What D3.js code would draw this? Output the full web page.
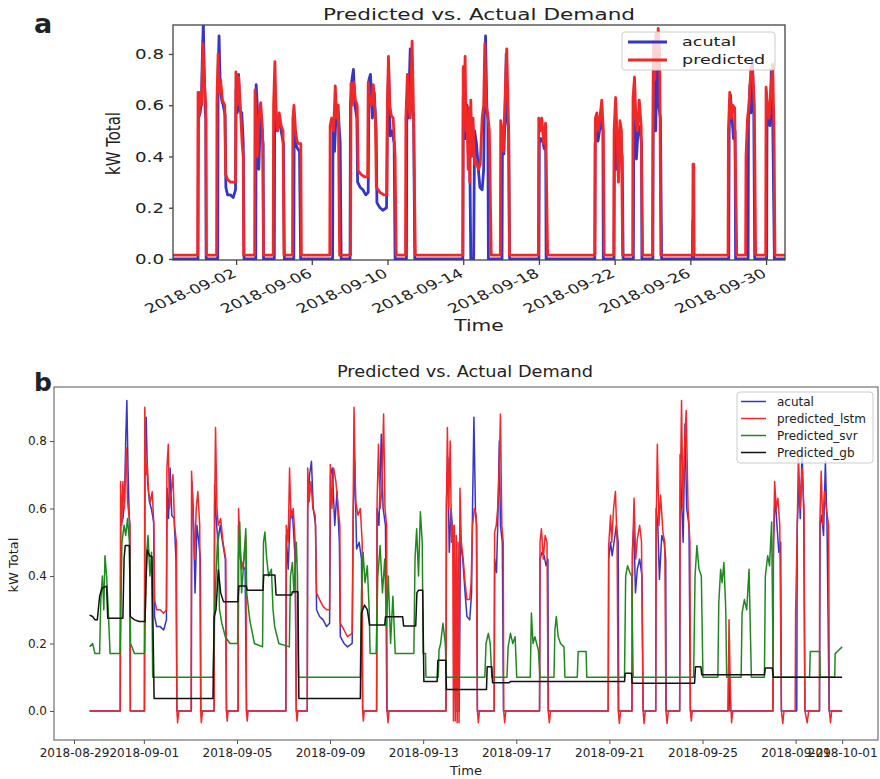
<!DOCTYPE html>
<html><head><meta charset="utf-8">
<script src="https://cdn.jsdelivr.net/npm/d3@7"></script>
<style>body{margin:0;background:#fff;} text{font-family:"DejaVu Sans",sans-serif;fill:#222;}</style>
</head><body>
<svg id="c" width="880" height="779"></svg>
<script>
// time values: days since 2018-08-29 00:00 (UTC), values in kW
const startDate = "2018-08-29";

const actual = [
[0.667,0],
[1.99,0],[2.01,0.55],[2.1,0.57],[2.17,0.62],[2.22,0.8],[2.27,0.92],[2.32,0.72],[2.37,0.58],[2.4,0.55],[2.42,0],
[3.03,0],[3.05,0.72],[3.1,0.87],[3.16,0.68],[3.24,0.62],[3.32,0.6],[3.42,0.56],[3.46,0.28],[3.55,0.25],[3.7,0.25],[3.85,0.24],[3.97,0.27],[4.0,0.66],[4.06,0.57],[4.13,0.72],[4.2,0.58],[4.3,0.57],[4.38,0.45],[4.42,0],
[5.04,0],[5.06,0.68],[5.12,0.6],[5.2,0.35],[5.28,0.55],[5.36,0.5],[5.43,0.45],[5.45,0],
[6.02,0],[6.04,0.67],[6.1,0.58],[6.18,0.5],[6.28,0.55],[6.38,0.5],[6.5,0.45],[6.55,0],
[7.05,0],[7.07,0.55],[7.15,0.45],[7.25,0.43],[7.35,0.42],[7.41,0],
[9.1,0],[9.12,0.52],[9.2,0.42],[9.3,0.6],[9.4,0.57],[9.5,0.45],[9.55,0],
[10.02,0],[10.04,0.6],[10.12,0.7],[10.2,0.74],[10.28,0.6],[10.38,0.55],[10.42,0.3],[10.55,0.28],[10.7,0.27],[10.85,0.25],[10.98,0.26],[11.02,0.7],[11.1,0.72],[11.2,0.55],[11.3,0.65],[11.4,0.5],[11.44,0.22],[11.6,0.2],[11.75,0.19],[11.95,0.2],[12.0,0.6],[12.06,0.74],[12.14,0.48],[12.25,0.5],[12.35,0.45],[12.4,0],
[13.0,0],[13.02,0.6],[13.1,0.55],[13.2,0.82],[13.28,0.6],[13.38,0.55],[13.44,0],
[15.98,0],[16.0,0.62],[16.06,0.75],[16.12,0.47],[16.2,0.6],[16.3,0.5],[16.36,0.3],[16.4,0],[16.55,0],[16.6,0.5],[16.7,0.45],[16.8,0.35],[16.88,0.28],[17.0,0.27],[17.08,0.35],[17.12,0.6],[17.18,0.87],[17.25,0.58],[17.3,0.55],[17.33,0],
[18.05,0],[18.07,0.45],[18.15,0.41],[18.22,0.6],[18.27,0.8],[18.32,0.55],[18.4,0.5],[18.45,0],
[20.0,0],[20.02,0.45],[20.1,0.47],[20.2,0.46],[20.28,0.43],[20.36,0.45],[20.38,0],
[22.95,0],[22.97,0.45],[23.05,0.5],[23.12,0.46],[23.2,0.5],[23.3,0.55],[23.38,0.5],[23.4,0],
[23.97,0],[23.99,0.48],[24.05,0.55],[24.12,0.35],[24.2,0.42],[24.3,0.45],[24.4,0.4],[24.45,0],
[24.99,0],[25.01,0.6],[25.08,0.55],[25.15,0.39],[25.25,0.52],[25.35,0.5],[25.42,0.45],[25.44,0],
[26.02,0],[26.04,0.76],[26.1,0.62],[26.17,0.5],[26.25,0.85],[26.32,0.6],[26.42,0.55],[26.48,0],
[28.1,0],[28.13,0.15],[28.18,0],
[30.03,0],[30.05,0.5],[30.12,0.64],[30.2,0.55],[30.28,0.47],[30.36,0.5],[30.39,0],
[31.05,0],[31.07,0.55],[31.15,0.68],[31.2,0.57],[31.28,0.77],[31.35,0.58],[31.4,0],
[32.03,0],[32.05,0.55],[32.12,0.58],[32.2,0.52],[32.28,0.74],[32.35,0.55],[32.44,0],
[33.0,0]
];

// panel a prediction
const predicted = [
[0.667,0.015],
[1.97,0.015],[1.99,0.65],[2.05,0.56],[2.1,0.65],[2.18,0.6],[2.25,0.84],[2.32,0.7],[2.4,0.6],[2.43,0.015],
[2.97,0.015],[2.99,0.62],[3.05,0.8],[3.1,0.65],[3.18,0.7],[3.28,0.62],[3.4,0.6],[3.45,0.33],[3.55,0.31],[3.7,0.3],[3.85,0.3],[3.97,0.3],[3.99,0.73],[4.06,0.6],[4.14,0.71],[4.22,0.6],[4.32,0.45],[4.38,0.4],[4.4,0.015],
[4.98,0.015],[5.0,0.66],[5.06,0.55],[5.12,0.4],[5.2,0.55],[5.3,0.61],[5.4,0.5],[5.45,0.015],
[5.96,0.015],[5.98,0.6],[6.05,0.77],[6.12,0.55],[6.2,0.5],[6.28,0.57],[6.38,0.52],[6.48,0.5],[6.53,0.015],
[6.98,0.015],[7.0,0.55],[7.06,0.6],[7.14,0.5],[7.22,0.46],[7.3,0.45],[7.42,0.45],[7.45,0.015],
[8.95,0.015],[8.97,0.52],[9.05,0.55],[9.15,0.5],[9.24,0.675],[9.32,0.55],[9.4,0.6],[9.47,0.015],
[10.05,0.015],[10.07,0.685],[10.14,0.6],[10.22,0.69],[10.3,0.62],[10.4,0.6],[10.45,0.345],[10.6,0.33],[10.8,0.32],[10.95,0.32],[10.98,0.69],[11.05,0.62],[11.15,0.6],[11.25,0.68],[11.36,0.55],[11.41,0.28],[11.6,0.26],[11.8,0.25],[11.97,0.25],[11.99,0.6],[12.05,0.79],[12.12,0.6],[12.2,0.56],[12.3,0.55],[12.4,0.4],[12.46,0.015],
[12.95,0.015],[12.97,0.55],[13.05,0.72],[13.12,0.6],[13.2,0.55],[13.3,0.85],[13.38,0.55],[13.47,0.015],
[15.98,0.015],[16.0,0.75],[16.05,0.6],[16.1,0.79],[16.15,0.5],[16.2,0.55],[16.26,0.35],[16.3,0.59],[16.35,0.3],[16.4,0.62],[16.46,0.4],[16.52,0.55],[16.6,0.37],[16.7,0.38],[16.8,0.35],[16.9,0.37],[17.0,0.55],[17.08,0.6],[17.14,0.84],[17.22,0.6],[17.3,0.56],[17.38,0.5],[17.48,0.015],
[17.96,0.015],[17.98,0.54],[18.05,0.5],[18.12,0.42],[18.2,0.6],[18.3,0.82],[18.4,0.5],[18.44,0.015],
[19.97,0.015],[19.99,0.55],[20.07,0.5],[20.15,0.55],[20.25,0.45],[20.35,0.53],[20.46,0.015],
[22.96,0.015],[22.98,0.55],[23.06,0.57],[23.14,0.5],[23.22,0.55],[23.32,0.62],[23.4,0.5],[23.45,0.015],
[23.95,0.015],[23.97,0.5],[24.05,0.63],[24.12,0.5],[24.2,0.3],[24.28,0.54],[24.36,0.5],[24.42,0.015],
[24.95,0.015],[24.97,0.63],[25.05,0.71],[25.12,0.55],[25.2,0.5],[25.3,0.62],[25.4,0.52],[25.48,0.015],
[26.0,0.015],[26.02,0.45],[26.06,0.85],[26.12,0.7],[26.18,0.88],[26.25,0.75],[26.3,0.9],[26.38,0.8],[26.44,0.015],
[28.12,0.015],[28.14,0.37],[28.18,0.37],[28.2,0.015],
[29.99,0.015],[30.01,0.5],[30.08,0.65],[30.16,0.55],[30.24,0.6],[30.34,0.59],[30.45,0.015],
[30.92,0.015],[30.94,0.4],[31.02,0.55],[31.1,0.6],[31.2,0.75],[31.3,0.72],[31.38,0.6],[31.45,0.015],
[31.98,0.015],[32.0,0.67],[32.08,0.6],[32.16,0.55],[32.25,0.65],[32.35,0.76],[32.42,0.5],[32.47,0.015],
[33.0,0.015]
];

const lstm = [
[0.667,0],
[1.98,0],[2.0,0.68],[2.05,0.55],[2.1,0.68],[2.16,0.6],[2.24,0.78],[2.3,0.62],[2.36,0.58],[2.4,0.55],[2.42,0],
[3.02,0],[3.04,0.9],[3.1,0.7],[3.15,0.73],[3.2,0.65],[3.28,0.62],[3.36,0.65],[3.43,0.55],[3.46,0.33],[3.55,0.3],[3.7,0.3],[3.85,0.29],[3.97,0.3],[3.99,0.72],[4.05,0.79],[4.1,0.6],[4.18,0.65],[4.25,0.7],[4.32,0.55],[4.4,0.5],[4.42,0],[4.45,-0.035],[4.5,0],
[5.03,0],[5.05,0.71],[5.1,0.62],[5.18,0.45],[5.25,0.6],[5.32,0.65],[5.4,0.55],[5.44,0],[5.47,-0.035],[5.52,0],
[6.02,0],[6.04,0.6],[6.08,0.84],[6.14,0.6],[6.2,0.55],[6.3,0.57],[6.4,0.5],[6.52,0.45],[6.55,0],[6.58,-0.03],[6.62,0],
[7.05,0],[7.07,0.6],[7.12,0.5],[7.2,0.42],[7.3,0.45],[7.38,0.52],[7.41,0],[7.44,-0.03],[7.48,0],
[9.1,0],[9.12,0.55],[9.2,0.5],[9.26,0.72],[9.32,0.57],[9.42,0.6],[9.5,0.5],[9.55,0],[9.58,-0.03],[9.62,0],
[10.02,0],[10.04,0.72],[10.1,0.62],[10.18,0.68],[10.26,0.6],[10.36,0.58],[10.42,0.35],[10.55,0.33],[10.7,0.31],[10.85,0.3],[10.98,0.3],[11.01,0.73],[11.08,0.6],[11.15,0.72],[11.25,0.68],[11.35,0.6],[11.42,0.55],[11.44,0.26],[11.6,0.24],[11.75,0.22],[11.95,0.23],[11.99,0.6],[12.03,0.9],[12.1,0.62],[12.2,0.58],[12.3,0.6],[12.38,0.5],[12.4,0],[12.43,-0.03],[12.47,0],
[13.0,0],[13.02,0.62],[13.08,0.79],[13.15,0.6],[13.22,0.65],[13.3,0.88],[13.36,0.6],[13.43,0.55],[13.45,0],[13.49,-0.035],[13.53,0],
[15.98,0],[16.0,0.6],[16.04,0.84],[16.1,0.6],[16.16,0.8],[16.22,0.5],[16.27,0.55],[16.3,-0.03],[16.34,0.55],[16.38,-0.03],[16.42,0.52],[16.46,-0.035],[16.5,0.5],[16.54,-0.035],[16.58,0.66],[16.64,0.5],[16.72,0.45],[16.8,0.38],[16.88,0.33],[17.0,0.33],[17.06,0.38],[17.12,0.55],[17.2,0.6],[17.28,0.58],[17.33,0],[17.37,-0.035],[17.42,0],
[18.05,0],[18.07,0.53],[18.14,0.55],[18.2,0.6],[18.26,0.7],[18.32,0.88],[18.38,0.55],[18.44,0.5],[18.46,0],[18.5,-0.035],[18.55,0],
[20.0,0],[20.02,0.5],[20.08,0.54],[20.16,0.45],[20.24,0.52],[20.32,0.5],[20.37,0],[20.42,-0.035],[20.47,0],
[22.95,0],[22.97,0.49],[23.05,0.58],[23.1,0.5],[23.18,0.6],[23.26,0.65],[23.33,0.5],[23.38,0],[23.43,-0.037],[23.48,0],
[23.97,0],[23.99,0.45],[24.06,0.63],[24.13,0.45],[24.2,0.51],[24.3,0.55],[24.38,0.5],[24.45,0],[24.49,-0.037],[24.54,0],
[24.99,0],[25.01,0.55],[25.06,0.79],[25.13,0.55],[25.2,0.64],[25.3,0.53],[25.38,0.5],[25.43,0],[25.48,-0.037],[25.53,0],
[26.02,0],[26.04,0.6],[26.1,0.92],[26.16,0.6],[26.24,0.8],[26.3,0.89],[26.38,0.6],[26.46,0.5],[26.48,0],[26.52,-0.03],[26.56,0],
[28.1,0],[28.14,0.27],[28.2,0.05],[28.25,-0.035],[28.3,0],
[30.02,0],[30.04,0.45],[30.1,0.68],[30.17,0.6],[30.24,0.63],[30.32,0.55],[30.39,0],[30.45,-0.037],[30.5,0],
[30.98,0],[31.0,0.29],[31.06,0.5],[31.12,0.76],[31.2,0.6],[31.28,0.72],[31.36,0.6],[31.4,0],[31.5,-0.035],[31.56,0],
[32.02,0],[32.04,0.55],[32.1,0.71],[32.17,0.55],[32.24,0.65],[32.32,0.6],[32.42,0.55],[32.45,0],[32.5,-0.035],[32.55,0],
[33.0,0]
];

const svr = [
[0.667,0.19],[0.8,0.2],[0.9,0.17],[1.1,0.17],[1.15,0.33],[1.22,0.4],[1.28,0.3],[1.33,0.46],[1.4,0.4],[1.47,0.3],[1.55,0.17],[1.98,0.17],
[2.06,0.5],[2.15,0.55],[2.22,0.52],[2.3,0.57],[2.38,0.5],[2.43,0.2],[2.6,0.17],[3.03,0.17],
[3.1,0.45],[3.18,0.52],[3.26,0.4],[3.33,0.47],[3.38,0.1],[5.98,0.1],
[6.02,0.25],[6.1,0.4],[6.18,0.53],[6.25,0.3],[6.35,0.26],[6.5,0.22],[6.7,0.2],[7.03,0.2],
[7.06,0.45],[7.12,0.56],[7.2,0.35],[7.3,0.45],[7.38,0.54],[7.42,0.35],[7.55,0.27],[7.75,0.2],[8.1,0.19],
[8.14,0.5],[8.2,0.53],[8.28,0.45],[8.36,0.4],[8.48,0.42],[8.55,0.3],[8.62,0.25],[8.8,0.2],[9.25,0.19],
[9.3,0.4],[9.38,0.44],[9.45,0.35],[9.55,0.5],[9.6,0.4],[9.64,0.1],[12.3,0.1],
[12.35,0.35],[12.42,0.47],[12.5,0.38],[12.6,0.43],[12.68,0.3],[12.72,0.17],[12.98,0.17],
[13.05,0.4],[13.15,0.49],[13.25,0.35],[13.35,0.45],[13.42,0.25],[13.5,0.4],[13.6,0.2],[13.7,0.34],[13.8,0.17],[14.6,0.17],
[14.65,0.45],[14.72,0.54],[14.8,0.4],[14.88,0.59],[14.96,0.5],[15.0,0.17],[15.1,0.17],[15.12,0.1],[15.65,0.1],
[15.68,0.18],[15.75,0.2],[15.85,0.26],[15.95,0.2],[16.0,0.1],[17.65,0.1],
[17.7,0.2],[17.8,0.23],[17.88,0.2],[17.95,0.1],[18.6,0.1],
[18.65,0.19],[18.75,0.23],[18.85,0.2],[18.95,0.22],[19.02,0.1],[19.6,0.1],
[19.65,0.29],[19.72,0.2],[19.8,0.22],[19.95,0.18],[20.02,0.1],[20.62,0.1],
[20.66,0.24],[20.72,0.28],[20.8,0.22],[20.9,0.2],[21.05,0.19],[21.09,0.1],[21.62,0.1],
[21.66,0.176],[22.0,0.176],[22.03,0.1],[23.65,0.1],
[23.7,0.4],[23.78,0.43],[23.88,0.41],[23.96,0.4],[24.02,0.1],[26.62,0.1],
[26.68,0.4],[26.76,0.49],[26.85,0.42],[26.95,0.4],[27.02,0.1],[27.66,0.1],
[27.7,0.32],[27.78,0.42],[27.84,0.38],[27.92,0.44],[28.0,0.3],[28.04,0.1],[28.66,0.1],
[28.7,0.29],[28.8,0.33],[28.9,0.3],[29.0,0.42],[29.1,0.1],[29.66,0.1],
[29.7,0.4],[29.8,0.46],[29.88,0.43],[29.97,0.56],[30.04,0.1],[31.6,0.1],
[31.63,0.176],[32.03,0.176],[32.06,0.1],[32.68,0.1],[32.7,0.17],[32.85,0.18],[33.0,0.19]
];

const gb = [
[0.667,0.284],[0.8,0.28],[0.9,0.27],[1.0,0.27],[1.1,0.34],[1.2,0.364],[1.4,0.37],[1.45,0.275],[2.1,0.275],
[2.15,0.45],[2.2,0.49],[2.38,0.49],[2.42,0.28],[2.6,0.27],[2.8,0.265],[3.05,0.265],
[3.1,0.4],[3.15,0.477],[3.25,0.46],[3.35,0.457],[3.44,0.037],[5.97,0.037],
[6.02,0.28],[6.1,0.3],[6.2,0.418],[6.3,0.35],[6.42,0.324],[7.04,0.324],
[7.08,0.37],[7.4,0.37],[7.44,0.358],[8.12,0.358],[8.15,0.403],[8.63,0.403],[8.68,0.344],[9.35,0.344],
[9.38,0.353],[9.62,0.353],[9.66,0.037],[12.3,0.037],
[12.35,0.29],[12.48,0.314],[12.6,0.3],[12.7,0.255],[13.35,0.255],[13.38,0.279],[14.12,0.279],[14.16,0.252],[14.68,0.252],
[14.73,0.35],[14.8,0.358],[14.98,0.358],[15.03,0.087],[15.6,0.087],[15.63,0.15],[15.97,0.15],[16.0,0.064],[17.72,0.064],
[17.75,0.131],[17.95,0.131],[17.98,0.084],[18.7,0.084],[18.75,0.087],[23.65,0.087],
[23.68,0.112],[23.95,0.112],[23.98,0.082],[26.66,0.082],[26.7,0.131],[26.93,0.131],[26.97,0.107],[29.66,0.107],
[29.7,0.127],[30.0,0.127],[30.04,0.1],[33.0,0.1]
];

const ticksA = ["2018-09-02","2018-09-06","2018-09-10","2018-09-14","2018-09-18","2018-09-22","2018-09-26","2018-09-30"];
const ticksB = ["2018-08-29","2018-09-01","2018-09-05","2018-09-09","2018-09-13","2018-09-17","2018-09-21","2018-09-25","2018-09-29","2018-10-01"];
const yTicks = [0, 0.2, 0.4, 0.6, 0.8];
const legendA = ["acutal", "predicted"];
const legendB = ["acutal", "predicted_lstm", "Predicted_svr", "Predicted_gb"];
const titleText = "Predicted vs. Actual Demand";

const C = {blue:"#3535c8", red:"#f02828", green:"#1e8a1e", black:"#111"};

const parse = d3.utcParse("%Y-%m-%d");
const t0 = parse(startDate);
const toDate = d => new Date(+t0 + d * 864e5);
const svg = d3.select("#c");
const defs = svg.append("defs");

// ---------- Panel a ----------
const A = {l:173, r:785, t:25, b:260};
const xa = d3.scaleUtc().domain([toDate(0.667), toDate(33)]).range([A.l, A.r]);
const ya = d3.scaleLinear().domain([-0.004, 0.913]).range([A.b, A.t]);
const SX = 1.35;
defs.append("clipPath").attr("id","clipA").append("rect").attr("x",A.l).attr("y",A.t).attr("width",A.r-A.l).attr("height",A.b-A.t);
const gA = svg.append("g");
const lineA = d3.line().x(p => xa(toDate(p[0]))).y(p => ya(p[1]));
const plotA = gA.append("g").attr("clip-path","url(#clipA)");
plotA.append("path").datum(actual).attr("d", lineA).attr("fill","none").attr("stroke",C.blue).attr("stroke-width",2.8).attr("stroke-linejoin","round");
plotA.append("path").datum(predicted).attr("d", lineA).attr("fill","none").attr("stroke",C.red).attr("stroke-width",2.8).attr("stroke-linejoin","round");
gA.append("rect").attr("x",A.l).attr("y",A.t).attr("width",A.r-A.l).attr("height",A.b-A.t).attr("fill","none").attr("stroke","#444").attr("stroke-width",1.3);

// y axis a
const yAxA = gA.append("g").attr("transform",`translate(${A.l},0)`).call(d3.axisLeft(ya).tickValues(yTicks).tickFormat(d3.format(".1f")).tickSize(4));
yAxA.select(".domain").remove();
yAxA.selectAll("line").attr("stroke","#444").attr("stroke-width",1.3);
yAxA.selectAll("text").attr("x",0).attr("dy",null).attr("dominant-baseline","central")
  .attr("transform","translate(-9,0) scale(1.35,1)").attr("font-size",13.5).attr("font-family","DejaVu Sans").attr("fill","#222");

// x axis a
const xAxA = gA.append("g").attr("transform",`translate(0,${A.b})`).call(d3.axisBottom(xa).tickValues(ticksA.map(parse)).tickFormat(d3.utcFormat("%Y-%m-%d")).tickSize(5));
xAxA.select(".domain").remove();
xAxA.selectAll("line").attr("stroke","#444").attr("stroke-width",1.3);
xAxA.selectAll("text").attr("y",0).attr("dy",null).attr("text-anchor","end")
  .attr("transform",`translate(1,16) scale(${SX},1) rotate(-30)`).attr("font-size",13).attr("font-family","DejaVu Sans").attr("fill","#222");

gA.append("text").attr("transform",`translate(${(A.l+A.r)/2},20) scale(${SX},1)`).attr("text-anchor","middle").attr("font-size",16).text(titleText);
gA.append("text").attr("transform",`translate(${(A.l+A.r)/2},331) scale(${SX},1)`).attr("text-anchor","middle").attr("font-size",15).text("Time");
gA.append("text").attr("transform","translate(120,143.5) rotate(-90)").attr("text-anchor","middle")
  .attr("font-family","'Liberation Sans Narrow','Liberation Sans',sans-serif").attr("font-size",19)
  .attr("textLength",63).attr("lengthAdjust","spacingAndGlyphs").text("kW Total");
gA.append("text").attr("x",34).attr("y",33).attr("font-family","'Liberation Sans',Arial,sans-serif").attr("font-weight","bold").attr("font-size",27).attr("fill","#000").text("a");

// legend a
const lgA = gA.append("g");
lgA.append("rect").attr("x",622).attr("y",32).attr("width",153).attr("height",38).attr("rx",3).attr("fill","#fff").attr("fill-opacity",0.8).attr("stroke","#ccc");
[C.blue, C.red].forEach((c,i) => {
  const y = 42 + i*18;
  lgA.append("line").attr("x1",628).attr("x2",667).attr("y1",y).attr("y2",y).attr("stroke",c).attr("stroke-width",2.8);
  lgA.append("text").attr("transform",`translate(682,${y}) scale(${SX},1)`).attr("dominant-baseline","central").attr("font-size",13).text(legendA[i]);
});

// ---------- Panel b ----------
const B = {l:54, r:878, t:387, b:740};
const xb = d3.scaleUtc().domain([toDate(-0.86), toDate(34.54)]).range([B.l, B.r]);
const yb = d3.scaleLinear().domain([-0.086, 0.96]).range([B.b, B.t]);
defs.append("clipPath").attr("id","clipB").append("rect").attr("x",B.l).attr("y",B.t).attr("width",B.r-B.l).attr("height",B.b-B.t);
const gB = svg.append("g");
const lineB = d3.line().x(p => xb(toDate(p[0]))).y(p => yb(p[1]));
const plotB = gB.append("g").attr("clip-path","url(#clipB)");
[[actual,C.blue],[lstm,C.red],[svr,C.green],[gb,C.black]].forEach(([d,c]) => {
  plotB.append("path").datum(d).attr("d", lineB).attr("fill","none").attr("stroke",c).attr("stroke-width",1.5).attr("stroke-linejoin","round");
});
gB.append("rect").attr("x",B.l).attr("y",B.t).attr("width",B.r-B.l).attr("height",B.b-B.t).attr("fill","none").attr("stroke","#555").attr("stroke-width",1);

const yAxB = gB.append("g").attr("transform",`translate(${B.l},0)`).call(d3.axisLeft(yb).tickValues(yTicks).tickFormat(d3.format(".1f")).tickSize(4));
yAxB.select(".domain").remove();
yAxB.selectAll("line").attr("stroke","#555");
yAxB.selectAll("text").attr("x",-7).attr("font-size",12).attr("font-family","DejaVu Sans").attr("fill","#222");

const xAxB = gB.append("g").attr("transform",`translate(0,${B.b})`).call(d3.axisBottom(xb).tickValues(ticksB.map(parse)).tickFormat(d3.utcFormat("%Y-%m-%d")).tickSize(4));
xAxB.select(".domain").remove();
xAxB.selectAll("line").attr("stroke","#555");
xAxB.selectAll("text").attr("y",8).attr("dy","0.71em").attr("font-size",12).attr("font-family","DejaVu Sans").attr("fill","#222");

gB.append("text").attr("x",465).attr("y",377).attr("text-anchor","middle").attr("font-size",16).attr("textLength",256).attr("lengthAdjust","spacingAndGlyphs").text(titleText);
gB.append("text").attr("x",(B.l+B.r)/2).attr("y",775).attr("text-anchor","middle").attr("font-size",13).text("Time");
gB.append("text").attr("transform","translate(18,565) rotate(-90)").attr("text-anchor","middle").attr("font-size",13).text("kW Total");
gB.append("text").attr("x",34).attr("y",391).attr("font-family","'Liberation Sans',Arial,sans-serif").attr("font-weight","bold").attr("font-size",25).attr("fill","#000").text("b");

const lgB = gB.append("g");
lgB.append("rect").attr("x",737).attr("y",392).attr("width",136).attr("height",71).attr("rx",3).attr("fill","#fff").attr("fill-opacity",0.8).attr("stroke","#ccc");
[C.blue, C.red, C.green, C.black].forEach((c,i) => {
  const y = 401.5 + i*17;
  lgB.append("line").attr("x1",741).attr("x2",766).attr("y1",y).attr("y2",y).attr("stroke",c).attr("stroke-width",1.5);
  lgB.append("text").attr("x",777).attr("y",y).attr("dominant-baseline","central").attr("font-size",12).text(legendB[i]);
});
</script>
</body></html>
